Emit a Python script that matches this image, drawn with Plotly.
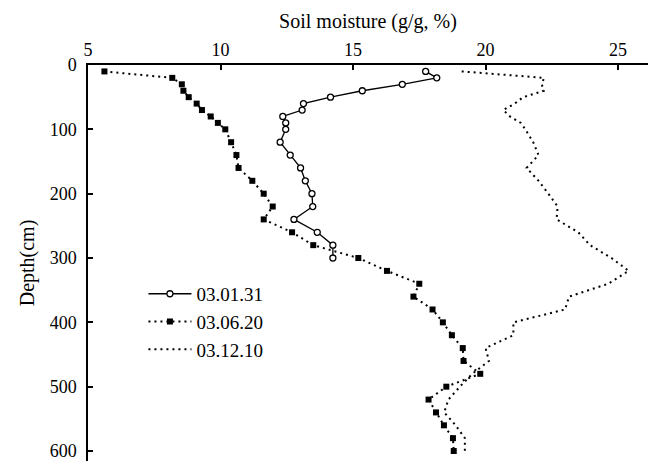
import plotly.graph_objects as go

# Depths (cm)
depth_0131 = [10, 20, 30, 40, 50, 60, 70, 80, 90, 100, 120, 140, 160, 180, 200,
              220, 240, 260, 280, 300]
depth_full = [10, 20, 30, 40, 50, 60, 70, 80, 90, 100, 120, 140, 160, 180, 200,
              220, 240, 260, 280, 300, 320, 340, 360, 380, 400, 420, 440, 460,
              480, 500, 520, 540, 560, 580, 600]

# Soil moisture (g/g, %)
sm_030131 = [17.74, 18.16, 16.86, 15.35, 14.15, 13.13, 13.08, 12.35, 12.46, 12.46,
             12.25, 12.63, 13.02, 13.20, 13.45, 13.48, 12.77, 13.65, 14.24, 14.24]
sm_030620 = [5.62, 8.18, 8.54, 8.60, 8.80, 9.10, 9.30, 9.63, 9.90, 10.18,
             10.40, 10.60, 10.68, 11.20, 11.63, 11.97, 11.63, 12.70, 13.50, 15.20,
             16.28, 17.50, 17.28, 18.00, 18.39, 18.73, 19.14, 19.17, 19.80, 18.52,
             17.85, 18.13, 18.43, 18.77, 18.80]
sm_031210 = [19.10, 22.21, 22.12, 22.20, 21.42, 21.10, 20.67, 20.92, 21.33, 21.50,
             21.80, 22.00, 21.55, 22.00, 22.37, 22.72, 22.68, 23.50, 23.94, 24.75,
             25.40, 24.63, 23.15, 23.00, 21.05, 21.05, 20.00, 20.13, 19.50, 19.03,
             18.60, 18.44, 18.87, 19.22, 19.22]

x_ticks = [5, 10, 15, 20, 25]
y_ticks = [0, 100, 200, 300, 400, 500, 600]

FONT = "Liberation Serif"

fig = go.Figure()
fig.add_trace(go.Scatter(
    x=sm_030131, y=depth_0131, name="03.01.31", mode="lines+markers",
    line=dict(color="black", width=1.3),
    marker=dict(symbol="circle", size=6, color="white",
                line=dict(color="black", width=1.3)),
))
fig.add_trace(go.Scatter(
    x=sm_030620, y=depth_full, name="03.06.20", mode="lines+markers",
    line=dict(color="black", width=2, dash="2px,4px"),
    marker=dict(symbol="square", size=6, color="black"),
))
fig.add_trace(go.Scatter(
    x=sm_031210, y=depth_full, name="03.12.10", mode="lines",
    line=dict(color="black", width=2, dash="2px,4px"),
))

fig.update_layout(
    width=652, height=461,
    margin=dict(l=88, r=4, t=65, b=0),
    paper_bgcolor="white", plot_bgcolor="white",
    font=dict(family=FONT, color="black", size=18),
    showlegend=True,
    legend=dict(x=0.099, y=0.47, xanchor="left", yanchor="top",
                font=dict(family=FONT, size=19, color="black"),
                bgcolor="rgba(0,0,0,0)", itemwidth=43,
                tracegroupgap=0),
    xaxis=dict(
        side="top", range=[5, 26.13], tickvals=x_ticks,
        ticks="inside", ticklen=5, tickwidth=1.5, tickcolor="black",
        showline=True, linecolor="black", linewidth=1.5,
        showgrid=False, zeroline=False, ticklabeloverflow="allow",
        tickfont=dict(family=FONT, size=18, color="black"),
        title=dict(text="Soil moisture (g/g, %)",
                   font=dict(family=FONT, size=20, color="black"), standoff=6),
    ),
    yaxis=dict(
        range=[615.5, 0], tickvals=y_ticks,
        ticks="inside", ticklen=5, tickwidth=1.5, tickcolor="black",
        showline=True, linecolor="black", linewidth=1.5,
        showgrid=False, zeroline=False, ticklabeloverflow="allow",
        ticklabelstandoff=6,
        tickfont=dict(family=FONT, size=18, color="black"),
        title=dict(text="Depth(cm)",
                   font=dict(family=FONT, size=20, color="black"), standoff=10),
    ),
)

fig.write_html("out.html")
